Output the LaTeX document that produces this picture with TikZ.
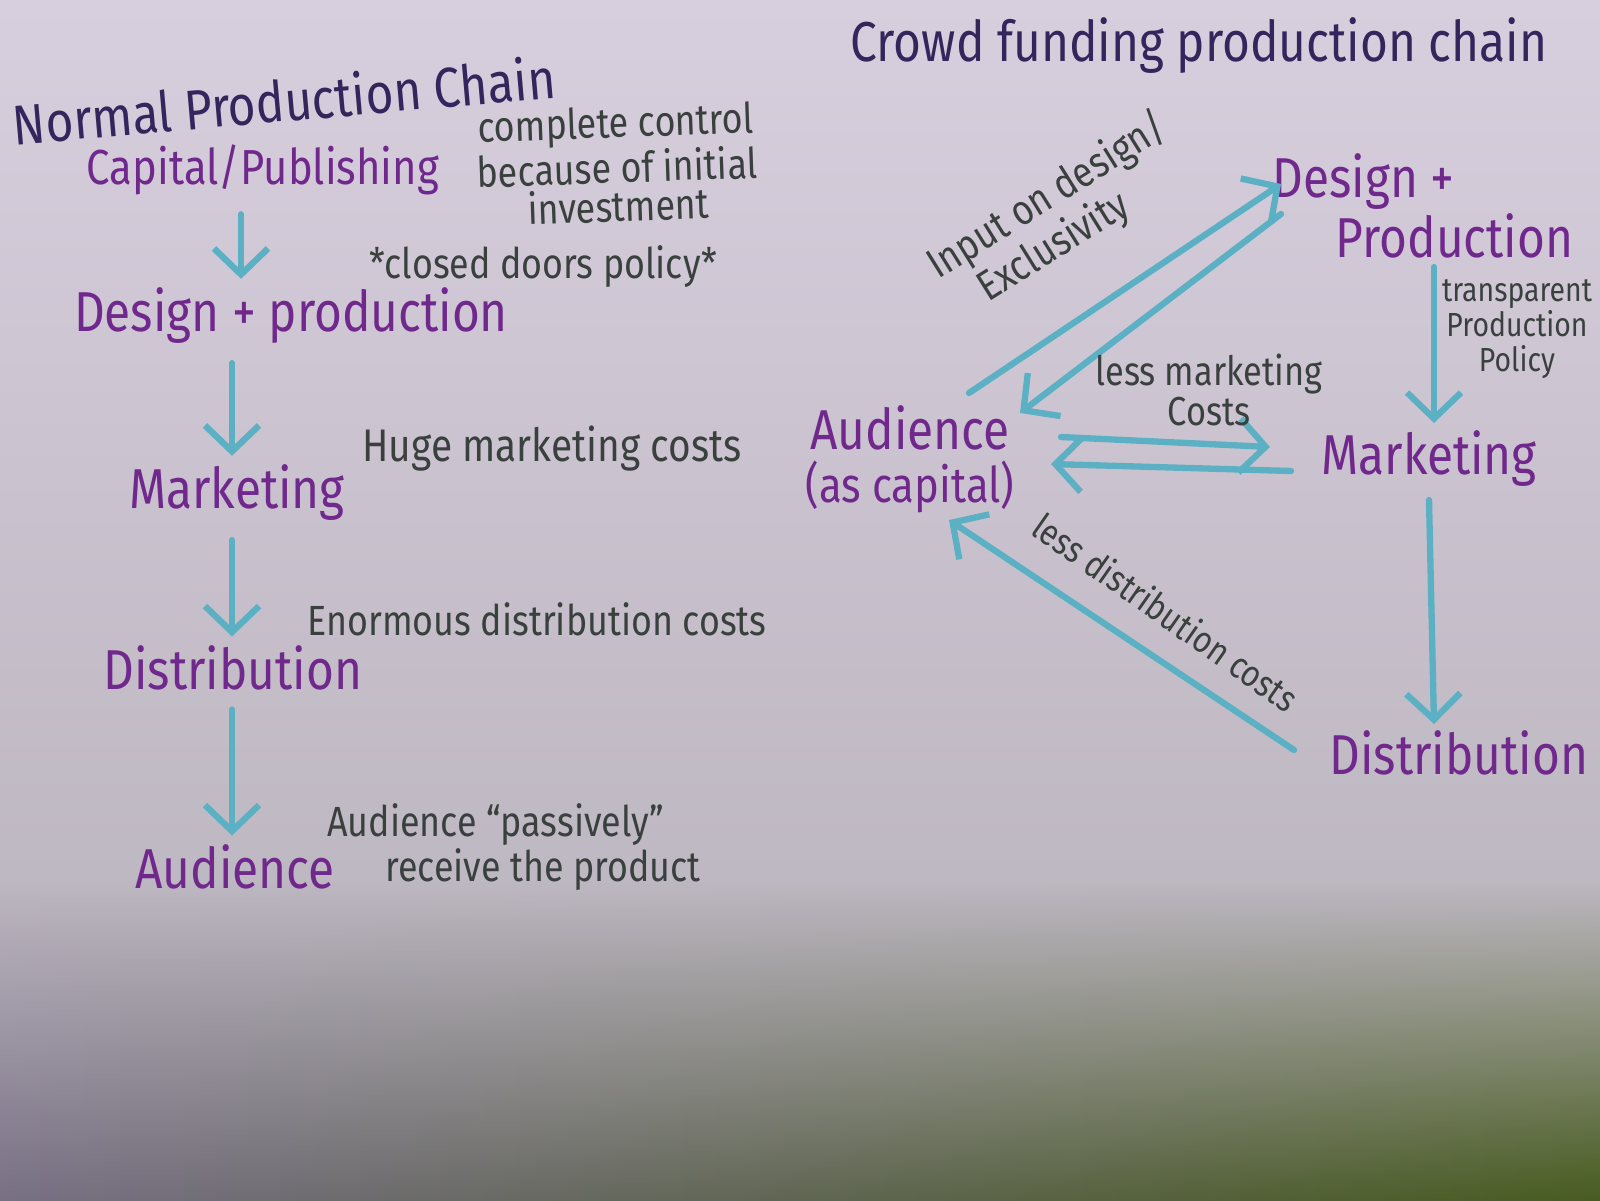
\documentclass[tikz,border=0pt]{standalone}
\usepackage{fontspec}
\setmainfont{Fira Sans}[FakeStretch=0.85]
\usetikzlibrary{arrows.meta, positioning, calc, fadings}
\definecolor{mypaper}{RGB}{216,207,222}
\definecolor{mypaperlow}{RGB}{190,184,194}
\definecolor{mymauve}{RGB}{120,112,132}
\definecolor{mygreen}{RGB}{72,92,32}
\definecolor{mypurple}{RGB}{112,40,140}
\definecolor{myink}{RGB}{52,38,92}
\definecolor{mygrey}{RGB}{58,64,62}
\definecolor{myteal}{RGB}{92,176,196}
\tikzfading[name=fadedown, top color=transparent!0, bottom color=transparent!100]
\tikzset{
  stage/.style={font=\fontsize{16}{15}\selectfont, text=mypurple,
    align=center, inner sep=1pt},
  title/.style={font=\fontsize{16}{18}\selectfont, text=myink, inner sep=1pt},
  note/.style={font=\fontsize{12}{11}\selectfont, text=mygrey,
    align=center, inner sep=1pt},
  arrow/.style={-{Straight Barb[length=2.6mm, width=5.4mm]}, line width=1.8pt,
    color=myteal, line cap=round},
  downarrow/.style={arrow, shorten <=1.5mm, shorten >=0.5mm}
}

\begin{document}
\begin{tikzpicture}
  % paper
  \useasboundingbox (0,0) rectangle (16,12);
  \shade[top color=mypaper, bottom color=mypaperlow] (0,3.2) rectangle (16,12);
  \shade[left color=mymauve, right color=mygreen] (0,0) rectangle (16,3.2);
  \fill[mypaperlow, path fading=fadedown] (0,0) rectangle (16,3.2);

  % normal production chain
  \node[title, rotate=5] (ntitle) at (2.84,11.0) {Normal Production Chain};
  \node[stage, font=\fontsize{14}{15}\selectfont] (lcap) at (2.63,10.30) {Capital/Publishing};
  \node[stage] (ldp) at (2.91,8.84) {Design + production};
  \node[stage] (lmkt) at (2.37,7.07) {Marketing};
  \node[stage] (ldist) at (2.33,5.32) {Distribution};
  \node[stage] (laud) at (2.35,3.33) {Audience};
  \coordinate (lx) at (2.32,0);
  \draw[downarrow] (lcap.south -| 2.41,0) -- (ldp.north -| 2.41,0);
  \draw[downarrow] (ldp.south -| lx) -- (lmkt.north -| lx);
  \draw[downarrow] (lmkt.south -| lx) -- (ldist.north -| lx);
  \draw[downarrow] (ldist.south -| lx) -- (laud.north -| lx);
  % notes on the left
  \node[note, rotate=2] (nctrl) at (6.17,10.36) {complete control\\because of initial\\investment};
  \node[note] (nclosed) at (5.43,9.33) {*closed doors policy*};
  \node[note, font=\fontsize{13}{12}\selectfont] (nhuge) at (5.52,7.51) {Huge marketing costs};
  \node[note] (nenorm) at (5.37,5.81) {Enormous distribution costs};
  \node[note, align=left] (npass) at (5.14,3.53) {Audience ``passively''\\\hspace*{5.8mm}receive the product};

  % crowd funding production chain
  \node[title] (ctitle) at (11.99,11.54) {Crowd funding production chain};
  \node[stage, align=left] (cdp) at (14.23,9.94) {Design +\\\hspace*{6.3mm}Production};
  \node[stage] (cmkt) at (14.29,7.41) {Marketing};
  \node[stage] (cdist) at (14.59,4.47) {Distribution};
  \node[stage] (caud) at (9.10,7.41) {Audience\\{\fontsize{14}{14}\selectfont(as capital)}};
  \draw[arrow] ([shift={(0.59,0.66)}]caud.center) -- ([shift={(-1.42,0.22)}]cdp.center);
  \draw[arrow] ([shift={(-1.42,-0.08)}]cdp.center) -- ([shift={(1.10,0.46)}]caud.center);
  \draw[arrow] ([shift={(1.51,0.22)}]caud.center) -- ([shift={(-1.59,0.12)}]cmkt.center);
  \draw[arrow] ([shift={(-1.38,-0.12)}]cmkt.center) -- ([shift={(1.41,-0.05)}]caud.center);
  \draw[arrow] ([shift={(0.11,-0.61)}]cdp.center) -- ([shift={(0.05,0.36)}]cmkt.center);
  \draw[arrow] ([shift={(0,-0.41)}]cmkt.center) -- ([shift={(-0.25,0.29)}]cdist.center);
  \draw[arrow] ([shift={(-1.65,0.03)}]cdist.center) -- ([shift={(0.39,-0.61)}]caud.center);
  % notes on the right
  \node[note, align=left, rotate=32, font=\fontsize{12}{13}\selectfont] (ninput) at (10.60,9.84) {Input on design/\\\hspace*{3mm}Exclusivity};
  \node[note, font=\fontsize{11.5}{10}\selectfont] (nless) at (12.09,8.10) {less marketing\\Costs};
  \node[note, font=\fontsize{10.5}{11}\selectfont, rotate=-35] (nlessd) at (11.66,5.88) {less distribution costs};
  \node[note, font=\fontsize{9.5}{10}\selectfont] (ntransp) at (15.17,8.71) {transparent\\Production\\Policy};
\end{tikzpicture}
\end{document}
